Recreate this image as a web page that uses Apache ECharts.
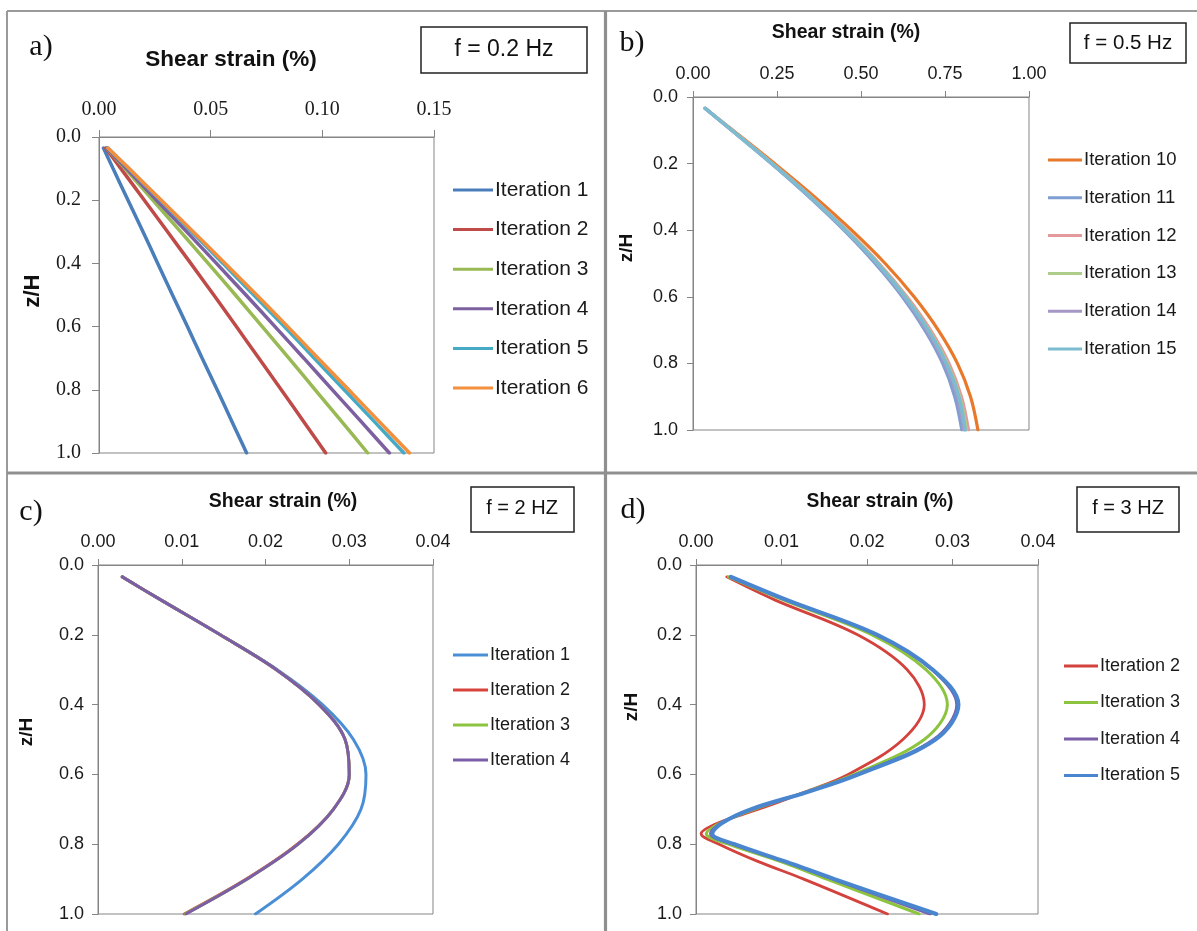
<!DOCTYPE html>
<html>
<head>
<meta charset="utf-8">
<script src="https://cdn.jsdelivr.net/npm/echarts@6/dist/echarts.min.js"></script>
<style>html,body{margin:0;padding:0;background:#fff}#chart{width:1197px;height:931px}</style>
</head>
<body>
<div id="chart"></div>
<script>
// ---------- Data ----------
// Panel a) f = 0.2 Hz
const zA = [0.035, 0.1, 0.2, 0.3, 0.4, 0.5, 0.6, 0.7, 0.8, 0.9, 1.0];
const a_it1 = [0.0020, 0.0063, 0.0130, 0.0197, 0.0263, 0.0329, 0.0396, 0.0462, 0.0529, 0.0595, 0.0661];
const a_it2 = [0.0030, 0.0098, 0.0203, 0.0307, 0.0411, 0.0514, 0.0615, 0.0716, 0.0816, 0.0916, 0.1015];
const a_it3 = [0.0035, 0.0117, 0.0241, 0.0366, 0.0489, 0.0611, 0.0731, 0.0850, 0.0968, 0.1086, 0.1203];
const a_it4 = [0.0035, 0.0123, 0.0258, 0.0393, 0.0526, 0.0658, 0.0788, 0.0917, 0.1045, 0.1173, 0.1300];
const a_it5 = [0.0040, 0.0133, 0.0275, 0.0415, 0.0555, 0.0693, 0.0830, 0.0964, 0.1098, 0.1232, 0.1365];
const a_it6 = [0.0040, 0.0135, 0.0279, 0.0422, 0.0565, 0.0706, 0.0845, 0.0981, 0.1118, 0.1254, 0.1390];

// Panel b) f = 0.5 Hz
const zB = [0.034, 0.1, 0.2, 0.3, 0.4, 0.5, 0.6, 0.7, 0.8, 0.9, 1.0];
const b_it10 = [0.036, 0.119, 0.243, 0.362, 0.472, 0.572, 0.658, 0.730, 0.787, 0.826, 0.848];
const b_it11 = [0.036, 0.115, 0.233, 0.345, 0.449, 0.542, 0.623, 0.690, 0.743, 0.779, 0.800];
const b_it12 = [0.036, 0.117, 0.238, 0.352, 0.458, 0.554, 0.637, 0.707, 0.762, 0.799, 0.820];
const b_it13 = [0.036, 0.116, 0.236, 0.350, 0.455, 0.551, 0.633, 0.702, 0.757, 0.794, 0.814];
const b_it14 = [0.036, 0.115, 0.234, 0.347, 0.451, 0.546, 0.627, 0.695, 0.749, 0.786, 0.806];
const b_it15 = [0.036, 0.116, 0.235, 0.349, 0.454, 0.549, 0.631, 0.700, 0.754, 0.791, 0.810];

// Panel c) f = 2 HZ
const zC = [0.034, 0.1, 0.2, 0.3, 0.4, 0.5, 0.6, 0.7, 0.8, 0.9, 1.0];
const c_it1 = [0.0029, 0.0075, 0.0146, 0.0214, 0.0268, 0.0305, 0.0320, 0.0314, 0.0287, 0.0244, 0.0188];
const c_it2 = [0.0029, 0.0075, 0.0146, 0.0213, 0.0264, 0.0295, 0.0300, 0.0281, 0.0238, 0.0177, 0.0103];
const c_it3 = [0.0029, 0.0075, 0.0146, 0.0213, 0.0264, 0.0295, 0.0300, 0.0281, 0.0239, 0.0178, 0.0104];
const c_it4 = [0.0029, 0.0075, 0.0146, 0.0213, 0.0264, 0.0295, 0.0300, 0.0281, 0.0239, 0.0178, 0.0105];

// Panel d) f = 3 HZ
const zD = [0.034, 0.1, 0.2, 0.3, 0.4, 0.5, 0.6, 0.65, 0.7, 0.74, 0.77, 0.8, 0.85, 0.9, 1.0];
const d_it2 = [0.0036, 0.0092, 0.0189, 0.0247, 0.0267, 0.0242, 0.0178, 0.0128, 0.0073, 0.0025, 0.0006, 0.0027, 0.0073, 0.0126, 0.0224];
const d_it3 = [0.0038, 0.0102, 0.0206, 0.0269, 0.0294, 0.0267, 0.0185, 0.0129, 0.0068, 0.0028, 0.0012, 0.0038, 0.0099, 0.0153, 0.0261];
const d_it4 = [0.0040, 0.0105, 0.0211, 0.0276, 0.0305, 0.0278, 0.0189, 0.0130, 0.0065, 0.0029, 0.0017, 0.0043, 0.0104, 0.0160, 0.0274];
const d_it5 = [0.0041, 0.0106, 0.0212, 0.0277, 0.0307, 0.0280, 0.0190, 0.0131, 0.0064, 0.0030, 0.0019, 0.0045, 0.0105, 0.0162, 0.0281];

// Axis ranges / ticks
const xMaxA = 0.15, xIntA = 0.05;
const xMaxB = 1.0,  xIntB = 0.25;
const xMaxC = 0.04, xIntC = 0.01;
const xMaxD = 0.04, xIntD = 0.01;
const zMax = 1.0, zInt = 0.2;

// Titles / labels
const panelLetters = ['a)', 'b)', 'c)', 'd)'];
const freqLabels = ['f = 0.2 Hz', 'f = 0.5 Hz', 'f = 2 HZ', 'f = 3 HZ'];
const xTitle = 'Shear strain (%)';
const yTitle = 'z/H';

// ---------- Build ----------
const SANS = "'Liberation Sans', Arial, sans-serif";
const SERIF = "'Liberation Serif', 'Times New Roman', serif";
const AX = '#858585';

function pairs(xs, zs) { return zs.map((z, i) => [xs[i], z]); }

const panels = [
  { grid: { left: 99, top: 137, width: 335, height: 316 }, xMax: xMaxA, xInt: xIntA, xDec: 2,
    font: SERIF, fs: 20, xMargin: 17, yMargin: 18, tick: 7, smooth: 0.2,
    legend: { left: 453, top: 179, fs: 21, lh: 22, gap: 17.6, iw: 40 },
    series: [
      ['Iteration 1', a_it1, zA, '#4A7EBB', 3.5],
      ['Iteration 2', a_it2, zA, '#BE4B48', 3.5],
      ['Iteration 3', a_it3, zA, '#98B954', 3.5],
      ['Iteration 4', a_it4, zA, '#7D60A0', 3.5],
      ['Iteration 5', a_it5, zA, '#46AAC5', 3.5],
      ['Iteration 6', a_it6, zA, '#F38F3D', 3.5]
    ] },
  { grid: { left: 693, top: 97, width: 336, height: 333 }, xMax: xMaxB, xInt: xIntB, xDec: 2,
    font: SANS, fs: 18, xMargin: 14, yMargin: 15, tick: 6, smooth: 0.35,
    legend: { left: 1048, top: 150, fs: 18.5, lh: 20, gap: 17.8, iw: 34 },
    series: [
      ['Iteration 10', b_it10, zB, '#E8782A', 3.2],
      ['Iteration 11', b_it11, zB, '#7F9ED2', 3.2],
      ['Iteration 12', b_it12, zB, '#E49A9A', 3.2],
      ['Iteration 13', b_it13, zB, '#AECD8A', 3.2],
      ['Iteration 14', b_it14, zB, '#A597C6', 3.2],
      ['Iteration 15', b_it15, zB, '#7DBBD0', 3.6]
    ] },
  { grid: { left: 98, top: 565, width: 335, height: 349 }, xMax: xMaxC, xInt: xIntC, xDec: 2,
    font: SANS, fs: 18, xMargin: 14, yMargin: 14, tick: 6, smooth: 0.35,
    legend: { left: 453, top: 645, fs: 18, lh: 20, gap: 15, iw: 35 },
    series: [
      ['Iteration 1', c_it1, zC, '#4A8FD6', 3],
      ['Iteration 2', c_it2, zC, '#D8443C', 3],
      ['Iteration 3', c_it3, zC, '#8DC43F', 3],
      ['Iteration 4', c_it4, zC, '#7B5EA7', 3]
    ] },
  { grid: { left: 696, top: 565, width: 342, height: 349 }, xMax: xMaxD, xInt: xIntD, xDec: 2,
    font: SANS, fs: 18, xMargin: 14, yMargin: 14, tick: 6, smooth: 0.35,
    legend: { left: 1064, top: 656, fs: 18, lh: 20, gap: 16.5, iw: 34 },
    series: [
      ['Iteration 2', d_it2, zD, '#D3423D', 2.8],
      ['Iteration 3', d_it3, zD, '#8DC43F', 3],
      ['Iteration 4', d_it4, zD, '#7B5EA7', 3],
      ['Iteration 5', d_it5, zD, '#4A86CF', 4]
    ] }
];

const grid = [], xAxis = [], yAxis = [], series = [], legend = [];
panels.forEach((p, k) => {
  grid.push(Object.assign({ show: true, borderColor: AX, borderWidth: 1, backgroundColor: 'transparent' }, p.grid));
  xAxis.push({
    type: 'value', gridIndex: k, position: 'top', min: 0, max: p.xMax, interval: p.xInt,
    axisLine: { show: true, lineStyle: { color: AX, width: 1 } },
    axisTick: { show: true, length: p.tick, lineStyle: { color: AX } },
    splitLine: { show: false },
    axisLabel: { margin: p.xMargin, fontFamily: p.font, fontSize: p.fs, color: '#1a1a1a',
      formatter: v => v.toFixed(p.xDec) }
  });
  yAxis.push({
    type: 'value', gridIndex: k, inverse: true, min: 0, max: zMax, interval: zInt,
    axisLine: { show: true, lineStyle: { color: AX, width: 1 } },
    axisTick: { show: true, length: p.tick, lineStyle: { color: AX } },
    splitLine: { show: false },
    axisLabel: { margin: p.yMargin, fontFamily: p.font, fontSize: p.fs, color: '#1a1a1a',
      formatter: v => v.toFixed(1) }
  });
  const names = [];
  p.series.forEach(s => {
    const nm = panelLetters[k] + '|' + s[0];
    names.push(nm);
    series.push({
      name: nm, type: 'line', xAxisIndex: k, yAxisIndex: k,
      data: pairs(s[1], s[2]), smooth: p.smooth, symbol: 'none', showSymbol: false,
      color: s[3], lineStyle: { color: s[3], width: s[4], cap: 'round' },
      animation: false, silent: true
    });
  });
  legend.push({
    data: names, orient: 'vertical', left: p.legend.left, top: p.legend.top,
    padding: 0, itemGap: p.legend.gap, itemWidth: p.legend.iw, itemHeight: 3, icon: 'rect',
    selectedMode: false,
    formatter: n => n.split('|')[1],
    textStyle: { fontFamily: SANS, fontSize: p.legend.fs, lineHeight: p.legend.lh, color: '#1a1a1a', padding: [0, 0, 0, -3] }
  });
});

// ---------- Decorations ----------
function txt(x, y, text, font, extra) {
  return Object.assign({ type: 'text', x: x, y: y, silent: true,
    style: { text: text, font: font, fill: '#111', textAlign: 'center', textVerticalAlign: 'middle' } }, extra || {});
}
function line(x1, y1, x2, y2, w, c) {
  return { type: 'line', silent: true, shape: { x1, y1, x2, y2 }, style: { stroke: c, lineWidth: w } };
}
function box(x, y, w, h) {
  return { type: 'rect', silent: true, shape: { x, y, width: w, height: h }, style: { fill: '#fff', stroke: '#222', lineWidth: 1.5 } };
}

const graphic = [
  line(7, 11, 1197, 11, 2, '#9a9a9a'),
  line(7, 11, 7, 931, 2, '#9a9a9a'),
  line(7, 473, 1197, 473, 3.2, '#8f8f8f'),
  line(605.5, 11, 605.5, 931, 3.2, '#8f8f8f'),

  txt(41, 47, panelLetters[0], '30px ' + SERIF),
  txt(632, 43, panelLetters[1], '30px ' + SERIF),
  txt(31, 512, panelLetters[2], '30px ' + SERIF),
  txt(633, 510, panelLetters[3], '30px ' + SERIF),

  box(421, 27, 166, 46), txt(504, 50, freqLabels[0], '23px ' + SANS),
  box(1070, 23, 116, 40), txt(1128, 43, freqLabels[1], '20.5px ' + SANS),
  box(471, 487, 103, 45), txt(522, 508, freqLabels[2], '20px ' + SANS),
  box(1077, 487, 102, 45), txt(1128, 508, freqLabels[3], '20px ' + SANS),

  txt(231, 60, xTitle, 'bold 22.5px ' + SANS),
  txt(846, 33, xTitle, 'bold 19.5px ' + SANS),
  txt(283, 502, xTitle, 'bold 19.5px ' + SANS),
  txt(880, 502, xTitle, 'bold 19.3px ' + SANS),

  txt(33, 291, yTitle, 'bold 22px ' + SANS, { rotation: Math.PI / 2 }),
  txt(627, 248, yTitle, 'bold 19px ' + SANS, { rotation: Math.PI / 2 }),
  txt(27, 732, yTitle, 'bold 19px ' + SANS, { rotation: Math.PI / 2 }),
  txt(632, 707, yTitle, 'bold 19px ' + SANS, { rotation: Math.PI / 2 })
];

const chart = echarts.init(document.getElementById('chart'), null, { renderer: 'canvas' });
chart.setOption({
  backgroundColor: '#fff', animation: false,
  grid, xAxis, yAxis, series, legend, graphic
});
</script>
</body>
</html>
